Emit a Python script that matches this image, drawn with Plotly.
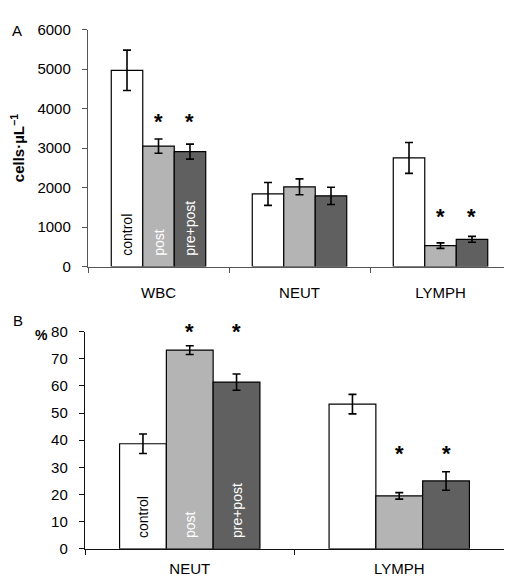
import plotly.graph_objects as go

# ---------------- data ----------------
series = ["control", "post", "pre+post"]
colors = ["#ffffff", "#b4b4b4", "#606060"]
label_colors = ["#000000", "#ffffff", "#ffffff"]

cats_a = ["WBC", "NEUT", "LYMPH"]
vals_a = {
    "control": [4970, 1840, 2750],
    "post": [3050, 2020, 530],
    "pre+post": [2910, 1790, 690],
}
err_a = {
    "control": [510, 290, 390],
    "post": [180, 200, 70],
    "pre+post": [190, 220, 75],
}
# asterisk (significance) marker heights, panel A (None = no marker)
sig_a = {
    "control": [None, None, None],
    "post": [3810, None, 1400],
    "pre+post": [3810, None, 1400],
}

cats_b = ["NEUT", "LYMPH"]
vals_b = {
    "control": [38.7, 53.3],
    "post": [73.2, 19.5],
    "pre+post": [61.4, 25.0],
}
err_b = {
    "control": [3.6, 3.6],
    "post": [1.6, 1.2],
    "pre+post": [3.0, 3.4],
}
sig_b = {
    "control": [None, None],
    "post": [82, 36.9],
    "pre+post": [82, 36.9],
}

W, H = 512, 587
OFF = 8  # default page body margin of the html page
FONT = "Liberation Sans, Arial, sans-serif"
BARGAP = 0.33

# panel geometry (page pixels)
A_X0, A_X1, A_Y0, A_Y1 = 88, 511, 265, 21
B_X0, B_X1, B_Y0, B_Y1 = 85, 504, 555.7, 332
A_RANGE = [0, 6000]
B_RANGE = [0, 80]


def px(x):
    return (x - OFF) / W


def py(y):
    return (H - (y - OFF)) / H


fig = go.Figure()
annotations = []


def add_panel(cats, vals, errs, sigs, xa, ya, yrange, pix_h):
    n = len(series)
    bw = (1 - BARGAP) / n
    ppu = pix_h / (yrange[1] - yrange[0])  # pixels per data unit
    for i, s in enumerate(series):
        txt = ["\u00a0\u00a0" + s] + [""] * (len(cats) - 1)
        fig.add_trace(go.Bar(
            x=cats, y=vals[s], name=s, xaxis=xa, yaxis=ya,
            marker=dict(color=colors[i], line=dict(color="#000000", width=1.2)),
            error_y=dict(type="data", array=errs[s], color="#000000",
                         thickness=1.6, width=4),
            text=txt, textposition="inside", insidetextanchor="start",
            textangle=-90,
            insidetextfont=dict(family=FONT, size=14, color=label_colors[i]),
            showlegend=False,
        ))
        for j, v in enumerate(sigs[s]):
            if v is None:
                continue
            yv = min(v, yrange[1])
            extra = (v - yv) * ppu
            annotations.append(dict(
                x=j + (i - (n - 1) / 2) * bw, y=yv, xref=xa, yref=ya,
                text="<b>*</b>", showarrow=False, yanchor="middle",
                yshift=-5 + extra,
                font=dict(family=FONT, size=22, color="#000000"),
            ))


add_panel(cats_a, vals_a, err_a, sig_a, "x", "y", A_RANGE, A_Y0 - A_Y1)
add_panel(cats_b, vals_b, err_b, sig_b, "x2", "y2", B_RANGE, B_Y0 - B_Y1)


def axis_style(color):
    return dict(
        showline=True, linecolor=color, linewidth=1.4,
        ticks="outside", ticklen=5, tickcolor=color, tickwidth=1.4,
        showgrid=False, zeroline=False,
        tickfont=dict(family=FONT, size=15, color="#000000"),
    )


annotations += [
    dict(text="A", x=px(10), y=py(11), xref="paper", yref="paper",
         showarrow=False, font=dict(family=FONT, size=15)),
    dict(text="B", x=px(11), y=py(321), xref="paper", yref="paper",
         showarrow=False, font=dict(family=FONT, size=15)),
    dict(text="<b>%</b>", x=px(33), y=py(335), xref="paper", yref="paper",
         showarrow=False, font=dict(family=FONT, size=14)),
]

fig.update_layout(
    width=W, height=H,
    margin=dict(l=0, r=0, t=0, b=0),
    paper_bgcolor="white", plot_bgcolor="white",
    barmode="group", bargap=BARGAP, bargroupgap=0,
    font=dict(family=FONT, color="#000000"),
    xaxis=dict(domain=[px(A_X0), px(A_X1)], anchor="y", type="category",
               tickson="boundaries", ticklabelstandoff=12, **axis_style("#555555")),
    yaxis=dict(domain=[py(A_Y0), py(A_Y1)], anchor="x",
               range=A_RANGE, tickvals=[0, 1000, 2000, 3000, 4000, 5000, 6000],
               ticklabelstandoff=8,
               title=dict(text="<b>cells·µL<sup>−1</sup></b>",
                          font=dict(family=FONT, size=15), standoff=12),
               **axis_style("#555555")),
    xaxis2=dict(domain=[px(B_X0), px(B_X1)], anchor="y2", type="category",
                tickson="boundaries", ticklabelstandoff=6, **axis_style("#111111")),
    yaxis2=dict(domain=[py(B_Y0), py(B_Y1)], anchor="x2",
                range=B_RANGE, tickvals=list(range(0, 81, 10)),
                ticklabelstandoff=8, **axis_style("#111111")),
    annotations=annotations,
)

fig.write_html("out.html")
